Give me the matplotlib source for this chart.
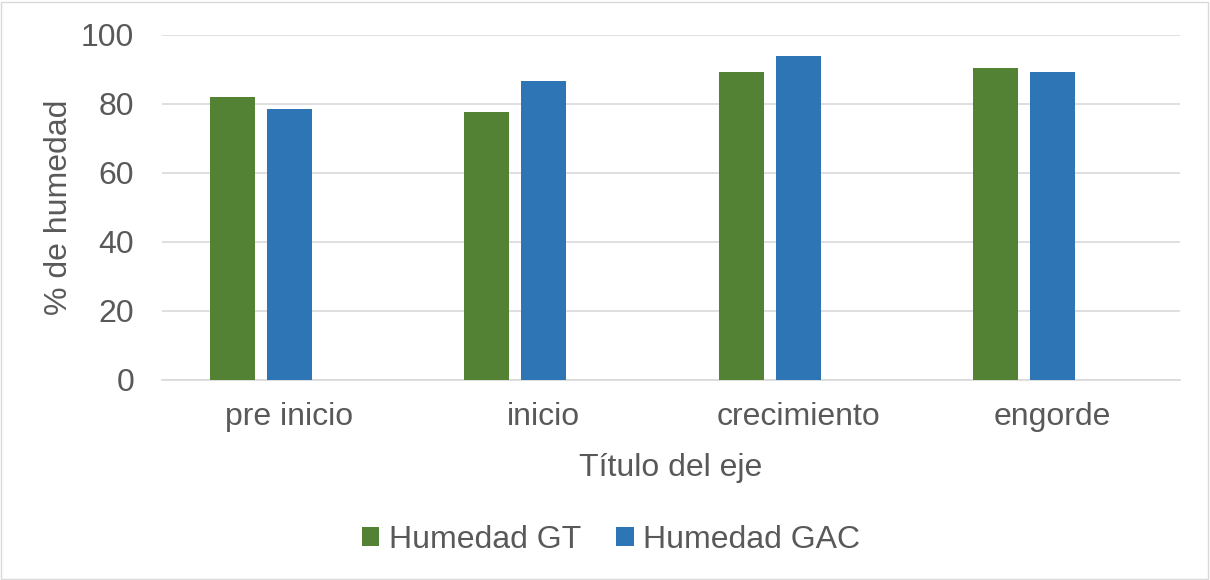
import numpy as np
import matplotlib.pyplot as plt
from matplotlib.patches import Rectangle

categorias = ["pre inicio", "inicio", "crecimiento", "engorde"]
humedad_gt = [82.1, 77.6, 89.1, 90.4]
humedad_gac = [78.4, 86.6, 94.0, 89.3]
ticks_y = [0, 20, 40, 60, 80, 100]

plt.rcParams['font.family'] = ['Liberation Sans', 'DejaVu Sans']
texto = '#595959'
fs = 23

fig = plt.figure(figsize=(12.1, 5.8), dpi=100)
ax = fig.add_axes([0.134, 0.345, 0.841, 0.595])

x = np.arange(len(categorias))
ancho = 0.177
paso = 0.224
ax.bar(x - paso, humedad_gt, ancho, color='#548235', label='Humedad GT', zorder=3)
ax.bar(x, humedad_gac, ancho, color='#2E75B6', label='Humedad GAC', zorder=3)

ax.set_xlim(-0.5, len(categorias) - 0.5)
ax.set_ylim(0, 100)
ax.set_yticks(ticks_y)
ax.set_xticks(x)
ax.set_xticklabels(categorias)
ax.grid(axis='y', color='#D9D9D9', linewidth=1.2, zorder=0)
for s in ['top', 'right', 'left']:
    ax.spines[s].set_visible(False)
ax.spines['bottom'].set_color('#D9D9D9')
ax.spines['bottom'].set_linewidth(1.2)
ax.tick_params(axis='both', length=0, labelsize=fs, colors=texto)
ax.tick_params(axis='x', pad=16)
ax.tick_params(axis='y', pad=20)

ax.set_xlabel('Título del eje', fontsize=fs, color=texto, labelpad=15)
ax.set_ylabel('% de humedad', fontsize=fs, color=texto, labelpad=5)

fig.legend(loc='center', bbox_to_anchor=(0.505, 0.069), ncol=2, frameon=False,
           fontsize=fs, labelcolor=texto, handlelength=0.55, handleheight=0.55,
           columnspacing=1.1, handletextpad=0.3)

fig.add_artist(Rectangle((0.001, 0.002), 0.997, 0.995, transform=fig.transFigure,
                         fill=False, edgecolor='#D9D9D9', linewidth=1))

plt.savefig('out.png', dpi=100)
